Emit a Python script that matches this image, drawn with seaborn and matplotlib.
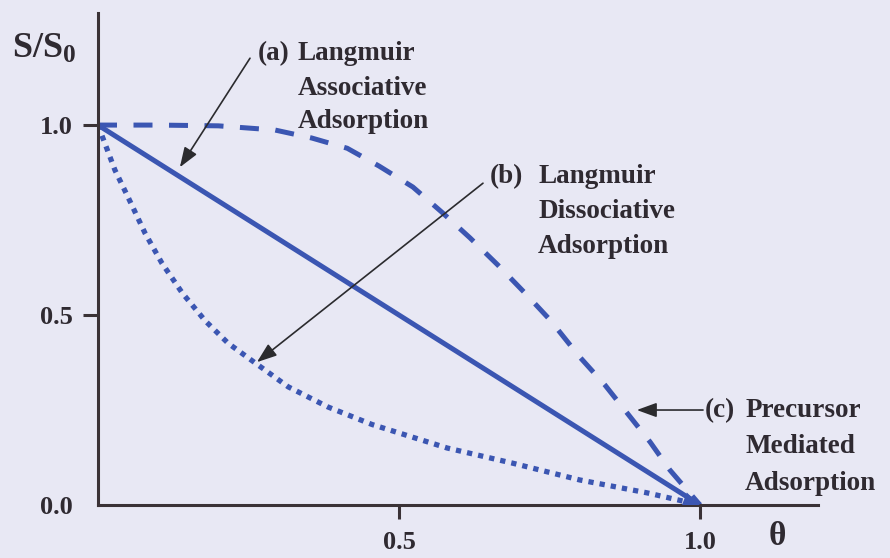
import matplotlib
matplotlib.use("Agg")
import matplotlib.pyplot as plt
import seaborn as sns

# Sticking coefficient vs coverage for three adsorption models
theta_assoc = [0.0, 1.0]
s_assoc = [1.0, 0.0]

theta_precursor = [0.0, 0.1, 0.2, 0.294, 0.355, 0.414, 0.467, 0.523, 0.571, 0.618,
                   0.664, 0.711, 0.751, 0.80, 0.842, 0.879, 0.917, 0.950, 1.0]
s_precursor = [1.0, 1.0, 0.998, 0.987, 0.966, 0.939, 0.892, 0.837, 0.771, 0.703,
               0.632, 0.555, 0.487, 0.39, 0.316, 0.242, 0.166, 0.092, 0.0]

theta_dissoc = [0.0, 0.028, 0.05, 0.078, 0.106, 0.14, 0.178, 0.216, 0.261, 0.316,
                0.382, 0.455, 0.58, 0.689, 0.80, 0.912, 1.0]
s_dissoc = [1.0, 0.882, 0.81, 0.716, 0.637, 0.558, 0.485, 0.426, 0.374, 0.311,
            0.258, 0.212, 0.15, 0.11, 0.066, 0.032, 0.0]

x_ticks = [0.5, 1.0]
x_tick_labels = ["0.5", "1.0"]
y_ticks = [0.0, 0.5, 1.0]
y_tick_labels = ["0.0", "0.5", "1.0"]

label_a = ["(a)", "Langmuir", "Associative", "Adsorption"]
label_b = ["(b)", "Langmuir", "Dissociative", "Adsorption"]
label_c = ["(c)", "Precursor", "Mediated", "Adsorption"]

BG = "#e8e8f4"
BLUE = "#3b56b2"
INK = "#2f2a31"
AXIS = "#3a3236"

sns.set_theme(style="ticks")
plt.rcParams["font.family"] = ["Liberation Serif", "DejaVu Serif"]
plt.rcParams["font.weight"] = "bold"
plt.rcParams["mathtext.fontset"] = "custom"
plt.rcParams["mathtext.rm"] = "Liberation Serif:bold"
plt.rcParams["mathtext.bf"] = "Liberation Serif:bold"
plt.rcParams["mathtext.it"] = "Liberation Serif:bold"

fig = plt.figure(figsize=(8.9, 5.58), dpi=100, facecolor=BG)
ax = fig.add_axes([98 / 890, 53 / 558, 720 / 890, 492 / 558])
ax.set_facecolor(BG)

sns.lineplot(x=theta_assoc, y=s_assoc, ax=ax, color=BLUE, lw=3.6,
             solid_capstyle="butt", sort=False)
sns.lineplot(x=theta_precursor, y=s_precursor, ax=ax, color=BLUE, lw=3.6,
             linestyle=(0, (3.8, 3.3)), dash_capstyle="butt", sort=False)
sns.lineplot(x=theta_dissoc, y=s_dissoc, ax=ax, color=BLUE, lw=3.8,
             linestyle=(0, (1.0, 1.15)), dash_capstyle="butt", sort=False)

# arrowhead where the straight line meets the axis
ax.annotate("", xy=(theta_assoc[-1], s_assoc[-1]), xytext=(0.975, 0.0158),
            arrowprops=dict(arrowstyle="-|>,head_length=0.55,head_width=0.22",
                            color=BLUE, lw=0, shrinkA=0, shrinkB=0,
                            mutation_scale=22))

ax.set_xlim(0, 1.196)
ax.set_ylim(0, 1.295)
sns.despine(ax=ax)
for side in ("left", "bottom"):
    ax.spines[side].set_color(AXIS)
    ax.spines[side].set_linewidth(2.2)

ax.set_xticks(x_ticks)
ax.set_xticklabels(x_tick_labels)
ax.set_yticks(y_ticks)
ax.set_yticklabels(y_tick_labels)
ax.tick_params(axis="x", direction="out", length=10, width=2.2, color=AXIS,
               pad=9, labelsize=19, labelcolor=INK)
ax.tick_params(axis="y", direction="out", length=11, width=2.2, color=AXIS,
               pad=7, labelsize=19, labelcolor=INK)
ax.yaxis.get_major_ticks()[0].tick1line.set_visible(False)
for lbl in ax.get_xticklabels() + ax.get_yticklabels():
    lbl.set_fontweight("bold")

ax.text(-0.143, 1.176, r"$\mathbf{S/S_0}$", fontsize=26, color=INK,
        ha="left", va="baseline", clip_on=False)
ax.text(1.128, -0.084, "θ", fontsize=24, color=INK, fontweight="bold",
        ha="center", va="center", clip_on=False)

TXT = dict(fontsize=19.5, color=INK, fontweight="bold", va="baseline",
           ha="left", clip_on=False)


def block(lines, x_tag, x_body, baselines):
    ax.text(x_tag, baselines[0], lines[0], **TXT)
    for txt, yb in zip(lines[1:], baselines):
        ax.text(x_body, yb, txt, **TXT)


block(label_a, 0.266, 0.332, [1.171, 1.079, 0.992])
block(label_b, 0.651, 0.731, [0.847, 0.755, 0.663])
block(label_c, 1.008, 1.075, [0.232, 0.137, 0.039])

ARROW = dict(arrowstyle="-|>,head_length=0.55,head_width=0.2", color="#2b2b2e",
             lw=1.2, shrinkA=0, shrinkB=0, mutation_scale=22)
ax.annotate("", xy=(0.136, 0.889), xytext=(0.2525, 1.176), arrowprops=ARROW,
            annotation_clip=False)
ax.annotate("", xy=(0.264, 0.376), xytext=(0.6395, 0.847), arrowprops=ARROW,
            annotation_clip=False)
ax.annotate("", xy=(0.895, 0.25), xytext=(1.005, 0.25), arrowprops=ARROW,
            annotation_clip=False)

fig.savefig("out.png", dpi=100, facecolor=BG)
